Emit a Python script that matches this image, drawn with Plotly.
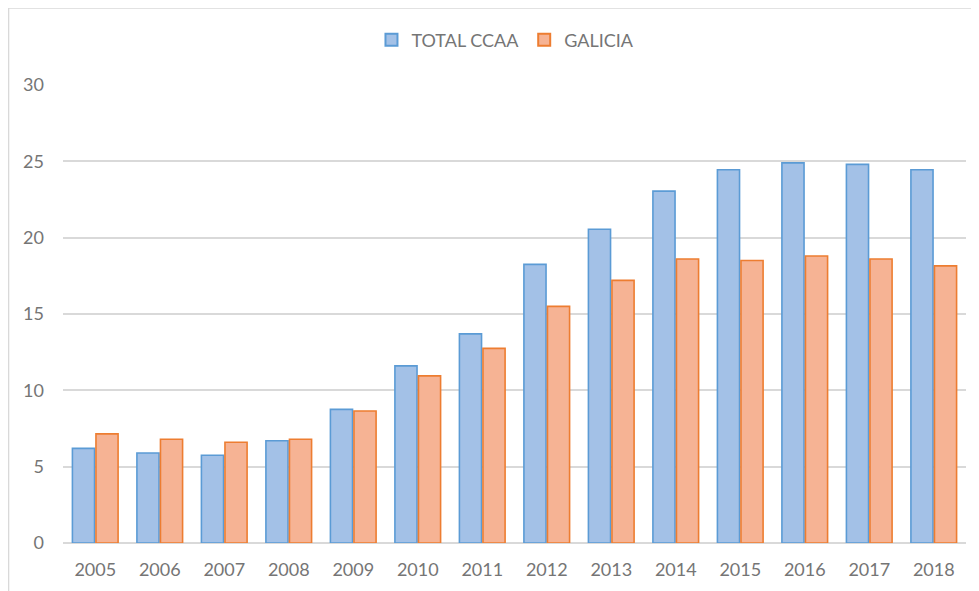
import plotly.graph_objects as go

years = ["2005", "2006", "2007", "2008", "2009", "2010", "2011", "2012", "2013", "2014", "2015", "2016", "2017", "2018"]
total_ccaa = [6.2, 5.9, 5.75, 6.7, 8.75, 11.6, 13.7, 18.25, 20.55, 23.05, 24.45, 24.9, 24.8, 24.45]
galicia = [7.15, 6.8, 6.6, 6.8, 8.65, 10.95, 12.75, 15.5, 17.2, 18.6, 18.5, 18.8, 18.6, 18.15]
y_ticks = [0, 5, 10, 15, 20, 25, 30]

fig = go.Figure()
fig.add_trace(go.Bar(
    x=years, y=total_ccaa, name="TOTAL CCAA",
    marker=dict(color="#a3c1e7", line=dict(color="#5b9bd5", width=1.6)),
))
fig.add_trace(go.Bar(
    x=years, y=galicia, name="GALICIA",
    marker=dict(color="#f6b394", line=dict(color="#ed7d31", width=1.6)),
))

grid = "#d9d9d9"
fig.update_layout(
    width=979, height=591,
    margin=dict(l=55, r=21, t=77, b=56),
    paper_bgcolor="white", plot_bgcolor="white",
    barmode="group", bargap=0.27, bargroupgap=0.06,
    font=dict(family="Lato, Carlito, sans-serif", size=18, color="#757575"),
    legend=dict(orientation="h", x=0.49, xanchor="center", y=1.098, yanchor="middle",
                font=dict(size=18, color="#757575"), itemsizing="constant"),
    xaxis=dict(showgrid=False, showline=False, ticks="", tickfont=dict(size=18), ticklabelstandoff=14),
    yaxis=dict(range=[0, 30], tickvals=y_ticks, showgrid=True, gridcolor=grid, gridwidth=1.5,
               zeroline=True, zerolinecolor=grid, zerolinewidth=1.5, showline=False,
               ticks="", ticklabelstandoff=18, tickfont=dict(size=18)),
    shapes=[
        dict(type="line", xref="paper", yref="paper", x0=-0.0603, x1=-0.0603, y0=-0.13, y1=1.168,
             line=dict(color=grid, width=1.5)),
        dict(type="line", xref="paper", yref="paper", x0=-0.0603, x1=1.03, y0=1.168, y1=1.168,
             line=dict(color=grid, width=1.5)),
    ],
)

fig.write_html("out.html")
